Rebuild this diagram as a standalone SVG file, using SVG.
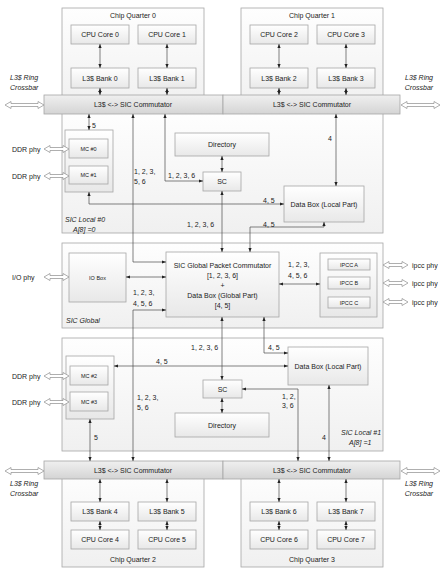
<svg xmlns="http://www.w3.org/2000/svg" xmlns:xlink="http://www.w3.org/1999/xlink" width="448" height="576" viewBox="0 0 448 576">
<defs>
<linearGradient id="gn" x1="0" y1="0" x2="0" y2="1"><stop offset="0" stop-color="#ffffff"/><stop offset="1" stop-color="#e8e8e8"/></linearGradient>
<linearGradient id="gc" x1="0" y1="0" x2="0" y2="1"><stop offset="0" stop-color="#fefefe"/><stop offset="1" stop-color="#f0f0f0"/></linearGradient>
<linearGradient id="gb" x1="0" y1="0" x2="0" y2="1"><stop offset="0" stop-color="#f0f0f0"/><stop offset="1" stop-color="#d4d4d4"/></linearGradient>
<marker id="a" viewBox="0 0 10 10" refX="10" refY="5" markerWidth="4" markerHeight="4" markerUnits="userSpaceOnUse" orient="auto-start-reverse"><path d="M0,1 L10,5 L0,9z" fill="#222"/></marker>
<path id="dL" class="dbl" d="M0 0 L6 -3.5 L6 -1.5 L33 -1.5 L33 -3.5 L39 0 L33 3.5 L33 1.5 L6 1.5 L6 3.5 Z"/>
<path id="dS" class="dbl" d="M0 0 L6 -3.5 L6 -1.5 L19 -1.5 L19 -3.5 L25 0 L19 3.5 L19 1.5 L6 1.5 L6 3.5 Z"/>
</defs>
<style>
.cont{fill:url(#gc);stroke:#a6a6a6;stroke-width:0.8}
.node{fill:url(#gn);stroke:#a6a6a6;stroke-width:0.8}
.bar{fill:url(#gb);stroke:#a6a6a6;stroke-width:0.8}
.dbl{fill:#ffffff;stroke:#8c8c8c;stroke-width:0.7}
text{font-family:"Liberation Sans",Arial,sans-serif;font-size:7px;fill:#222}
.c{text-anchor:middle}
.s{font-size:5.5px}
.i{font-style:italic}
#connectors path{fill:none;stroke:#4a4a4a;stroke-width:0.7;marker-start:url(#a);marker-end:url(#a)}
</style>

<g id="chip-quarter-0"><rect class="cont" x="62" y="8" width="142" height="100"/><text class="c" x="133" y="17.5">Chip Quarter 0</text></g>
<g id="chip-quarter-1"><rect class="cont" x="241" y="8" width="142" height="100"/><text class="c" x="312" y="17.5">Chip Quarter 1</text></g>
<g id="sic-local-0"><rect class="cont" x="62" y="110" width="321" height="123"/><text class="i" x="65" y="221.5">SIC Local #0</text><text class="i" x="73" y="231.5">A[8] =0</text></g>
<g id="sic-global"><rect class="cont" x="62" y="243" width="321" height="85"/><text class="i" x="66" y="323">SIC Global</text></g>
<g id="sic-local-1"><rect class="cont" x="62" y="338" width="321" height="113"/><text class="i" x="341" y="434.5">SIC Local #1</text><text class="i" x="349" y="444.5">A[8] =1</text></g>
<g id="chip-quarter-2"><rect class="cont" x="62" y="470" width="142" height="97"/><text class="c" x="133" y="561.5">Chip Quarter 2</text></g>
<g id="chip-quarter-3"><rect class="cont" x="241" y="470" width="142" height="97"/><text class="c" x="312" y="561.5">Chip Quarter 3</text></g>

<g id="commutator-top-0"><rect class="bar" x="44" y="95" width="179" height="19"/><text class="c" x="133" y="107">L3$ &lt;-&gt; SIC Commutator</text></g>
<g id="commutator-top-1"><rect class="bar" x="223" y="95" width="177" height="19"/><text class="c" x="312" y="107">L3$ &lt;-&gt; SIC Commutator</text></g>
<g id="commutator-bot-2"><rect class="bar" x="44" y="461" width="179" height="18"/><text class="c" x="133" y="472.5">L3$ &lt;-&gt; SIC Commutator</text></g>
<g id="commutator-bot-3"><rect class="bar" x="223" y="461" width="177" height="18"/><text class="c" x="312" y="472.5">L3$ &lt;-&gt; SIC Commutator</text></g>

<g id="cpu0"><rect class="node" x="71" y="25" width="58" height="19"/><text class="c" x="100" y="37">CPU Core 0</text></g>
<g id="cpu1"><rect class="node" x="138" y="25" width="58" height="19"/><text class="c" x="167" y="37">CPU Core 1</text></g>
<g id="cpu2"><rect class="node" x="250" y="25" width="58" height="19"/><text class="c" x="279" y="37">CPU Core 2</text></g>
<g id="cpu3"><rect class="node" x="317" y="25" width="58" height="19"/><text class="c" x="346" y="37">CPU Core 3</text></g>
<g id="l3b0"><rect class="node" x="71" y="68" width="58" height="20"/><text class="c" x="100" y="80.5">L3$ Bank 0</text></g>
<g id="l3b1"><rect class="node" x="138" y="68" width="58" height="20"/><text class="c" x="167" y="80.5">L3$ Bank 1</text></g>
<g id="l3b2"><rect class="node" x="250" y="68" width="58" height="20"/><text class="c" x="279" y="80.5">L3$ Bank 2</text></g>
<g id="l3b3"><rect class="node" x="317" y="68" width="58" height="20"/><text class="c" x="346" y="80.5">L3$ Bank 3</text></g>

<g id="l3b4"><rect class="node" x="71" y="502" width="58" height="19"/><text class="c" x="100" y="514">L3$ Bank 4</text></g>
<g id="l3b5"><rect class="node" x="138" y="502" width="58" height="19"/><text class="c" x="167" y="514">L3$ Bank 5</text></g>
<g id="l3b6"><rect class="node" x="250" y="502" width="58" height="19"/><text class="c" x="279" y="514">L3$ Bank 6</text></g>
<g id="l3b7"><rect class="node" x="317" y="502" width="58" height="19"/><text class="c" x="346" y="514">L3$ Bank 7</text></g>
<g id="cpu4"><rect class="node" x="71" y="530" width="58" height="19"/><text class="c" x="100" y="542">CPU Core 4</text></g>
<g id="cpu5"><rect class="node" x="138" y="530" width="58" height="19"/><text class="c" x="167" y="542">CPU Core 5</text></g>
<g id="cpu6"><rect class="node" x="250" y="530" width="58" height="19"/><text class="c" x="279" y="542">CPU Core 6</text></g>
<g id="cpu7"><rect class="node" x="317" y="530" width="58" height="19"/><text class="c" x="346" y="542">CPU Core 7</text></g>

<g id="mc-group-0"><rect class="node" x="65" y="130" width="48" height="62"/></g>
<g id="mc0"><rect class="node" x="69" y="139" width="39" height="19"/><text class="c s" x="88.5" y="150.5">MC #0</text></g>
<g id="mc1"><rect class="node" x="69" y="166" width="39" height="18"/><text class="c s" x="88.5" y="177">MC #1</text></g>
<g id="directory-0"><rect class="node" x="175" y="133" width="94" height="23"/><text class="c" x="222" y="147">Directory</text></g>
<g id="sc-0"><rect class="node" x="203" y="172" width="38" height="19"/><text class="c" x="222" y="184">SC</text></g>
<g id="databox-0"><rect class="node" x="284" y="186" width="80" height="36"/><text class="c" x="324" y="206.5">Data Box (Local Part)</text></g>

<g id="io-box"><rect class="node" x="69" y="253" width="57" height="49"/><text class="c s" x="97.5" y="279.5">IO Box</text></g>
<g id="global-commutator"><rect class="node" x="166" y="252" width="113" height="65"/>
<text class="c" x="222.5" y="267.5">SIC Global Packet Commutator</text>
<text class="c" x="222.5" y="278">[1, 2, 3, 6]</text>
<text class="c" x="222.5" y="287.5">+</text>
<text class="c" x="222.5" y="297.5">Data Box (Global Part)</text>
<text class="c" x="222.5" y="307.5">[4, 5]</text></g>
<g id="ipcc-group"><rect class="node" x="320" y="253" width="57" height="64"/></g>
<g id="ipcc-a"><rect class="node" x="328" y="259" width="42" height="11"/><text class="c s" x="349" y="266.5">IPCC A</text></g>
<g id="ipcc-b"><rect class="node" x="328" y="277" width="42" height="12"/><text class="c s" x="349" y="285">IPCC B</text></g>
<g id="ipcc-c"><rect class="node" x="328" y="297" width="42" height="11"/><text class="c s" x="349" y="304.5">IPCC C</text></g>

<g id="mc-group-1"><rect class="node" x="66" y="356" width="48" height="63"/></g>
<g id="mc2"><rect class="node" x="70" y="366" width="38" height="19"/><text class="c s" x="89" y="377.5">MC #2</text></g>
<g id="mc3"><rect class="node" x="70" y="392" width="38" height="19"/><text class="c s" x="89" y="403.5">MC #3</text></g>
<g id="databox-1"><rect class="node" x="288" y="347" width="80" height="38"/><text class="c" x="328" y="368.5">Data Box (Local Part)</text></g>
<g id="sc-1"><rect class="node" x="203" y="380" width="39" height="18"/><text class="c" x="222.5" y="391.5">SC</text></g>
<g id="directory-1"><rect class="node" x="175" y="413" width="94" height="24"/><text class="c" x="222" y="427.5">Directory</text></g>

<g id="phy">
<use xlink:href="#dL" transform="translate(5,105)"/>
<use xlink:href="#dL" transform="translate(401,105)"/>
<use xlink:href="#dL" transform="translate(5,471)"/>
<use xlink:href="#dL" transform="translate(401,471)"/>
<use xlink:href="#dS" transform="translate(44,149)"/>
<use xlink:href="#dS" transform="translate(44,176)"/>
<use xlink:href="#dS" transform="translate(44,277)"/>
<use xlink:href="#dS" transform="translate(44,376)"/>
<use xlink:href="#dS" transform="translate(44,402)"/>
<use xlink:href="#dS" transform="translate(383,265)"/>
<use xlink:href="#dS" transform="translate(383,283)"/>
<use xlink:href="#dS" transform="translate(383,302)"/>
<text class="i" x="10" y="80">L3$ Ring</text><text class="i" x="10" y="90">Crossbar</text>
<text class="i c" x="419" y="80">L3$ Ring</text><text class="i c" x="419" y="90">Crossbar</text>
<text class="i" x="10" y="485.5">L3$ Ring</text><text class="i" x="10" y="495.5">Crossbar</text>
<text class="i c" x="419" y="485.5">L3$ Ring</text><text class="i c" x="419" y="495.5">Crossbar</text>
<text x="12" y="151.5">DDR phy</text>
<text x="12" y="178.5">DDR phy</text>
<text x="12" y="279.5">I/O phy</text>
<text x="12" y="378.5">DDR phy</text>
<text x="12" y="404.5">DDR phy</text>
<text x="412" y="267.5">ipcc phy</text>
<text x="412" y="285.5">ipcc phy</text>
<text x="412" y="304.5">ipcc phy</text>
</g>

<g id="connectors">
<path d="M100 44 V68"/><path d="M167 44 V68"/><path d="M279 44 V68"/><path d="M346 44 V68"/>
<path d="M100 88 V95"/><path d="M167 88 V95"/><path d="M279 88 V95"/><path d="M346 88 V95"/>
<path d="M100 479 V502"/><path d="M167 479 V502"/><path d="M279 479 V502"/><path d="M346 479 V502"/>
<path d="M100 521 V530"/><path d="M167 521 V530"/><path d="M279 521 V530"/><path d="M346 521 V530"/>
<path d="M89 114 V130"/>
<path d="M133 114 V262 H166"/>
<path d="M165 114 V181 H203"/>
<path d="M222 156 V172"/>
<path d="M222 191 V252"/>
<path d="M89 192 V204 H284"/>
<path d="M336 114 V186"/>
<path d="M250 252 V227 H324 V222"/>
<path d="M126 277 H166"/>
<path d="M279 284 H320"/>
<path d="M166 310 H133 V461"/>
<path d="M222 317 V380"/>
<path d="M264 317 V353 H288"/>
<path d="M114 366 H288"/>
<path d="M222 398 V413"/>
<path d="M242 389 H298 V461"/>
<path d="M329 385 V461"/>
<path d="M90 419 V461"/>
</g>

<g id="labels">
<text x="92" y="128">5</text>
<text x="134" y="174">1, 2, 3,</text><text x="134" y="183.5">5, 6</text>
<text x="168" y="177.5">1, 2, 3, 6</text>
<text x="328" y="140.5">4</text>
<text x="263" y="202.5">4, 5</text>
<text x="187" y="226.5">1, 2, 3, 6</text>
<text x="263" y="226.5">4, 5</text>
<text x="133" y="295">1, 2, 3,</text><text x="133" y="306">4, 5, 6</text>
<text x="288" y="266.5">1, 2, 3,</text><text x="288" y="278">4, 5, 6</text>
<text x="191" y="349.5">1, 2, 3, 6</text>
<text x="268" y="349.5">4, 5</text>
<text x="156" y="364">4, 5</text>
<text x="137" y="400">1, 2, 3,</text><text x="137" y="409.5">5, 6</text>
<text x="282" y="398.5">1, 2,</text><text x="282" y="407.5">3, 6</text>
<text x="322" y="439.5">4</text>
<text x="94" y="439.5">5</text>
</g>
</svg>
